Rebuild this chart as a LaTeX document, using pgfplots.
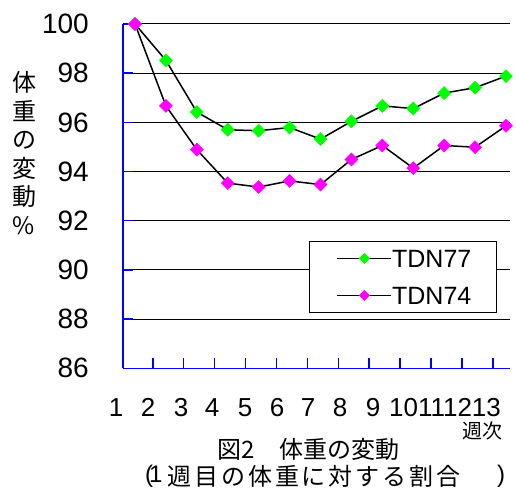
\documentclass[border=0pt]{standalone}
\usepackage{fontspec}
\setmainfont{Liberation Sans}
\newfontfamily\jp{Noto Sans CJK JP}
\usepackage{pgfplots}
\pgfplotsset{compat=1.18}
\definecolor{mgreen}{RGB}{0,255,0}
\definecolor{mmag}{RGB}{255,0,255}
\definecolor{mblue}{RGB}{0,0,255}
\begin{document}
\begin{tikzpicture}[x=1bp,y=1bp]
\path (0,0) rectangle (516,-491);
\begin{axis}[
  at={(123bp,-368.3bp)}, anchor=south west,
  scale only axis, width=387bp, height=344.3bp,
  xmin=0.612, xmax=13.13, ymin=86, ymax=100,
  axis lines*=left,
  axis line style={mblue, line width=1.5bp},
  tick align=inside,
  major tick length=10bp,
  tick style={mblue, line width=1.5bp},
  xtick={1.575,2.575,3.575,4.575,5.575,6.575,7.575,8.575,9.575,10.575,11.575,12.575},
  xticklabels={},
  ytick={86,88,90,92,94,96,98,100},
  yticklabel style={font=\fontsize{28bp}{28bp}\selectfont, inner sep=0pt, xshift=-34bp},
  /pgf/number format/assume math mode=true,
  ymajorgrids, grid style={black, line width=1bp},
  clip=false,
  legend cell align=left,
  legend style={at={(0.481,0.370)}, anchor=north west, draw=black, line width=1bp, fill=white,
    inner xsep=27bp, inner ysep=8bp, row sep=19bp,
    font=\fontsize{25bp}{25bp}\selectfont,
    nodes={inner sep=0pt, text height=18bp, text depth=0bp},
    /tikz/every even column/.append style={column sep=9bp}},
  legend image code/.code={
    \draw[#1, mark repeat=2, mark phase=2, mark size=3.6bp] plot coordinates {(0bp,0bp) (27bp,0bp) (54bp,0bp)};
  },
]
\addplot[black, line width=1.5bp, mark=square*, mark size=4.6bp,
  mark options={draw=mgreen, fill=mgreen, rotate=45, line width=0.5bp}]
  coordinates {(1,100)(2,98.52)(3,96.42)(4,95.70)(5,95.66)(6,95.79)(7,95.32)(8,96.04)(9,96.67)(10,96.56)(11,97.19)(12,97.41)(13,97.88)};
\addlegendentry{\makebox[77bp][l]{TDN77}}
\addplot[black, line width=1.5bp, mark=square*, mark size=4.6bp,
  mark options={draw=mmag, fill=mmag, rotate=45, line width=0.5bp}]
  coordinates {(1,100)(2,96.67)(3,94.89)(4,93.53)(5,93.37)(6,93.62)(7,93.47)(8,94.49)(9,95.06)(10,94.14)(11,95.06)(12,94.99)(13,95.86)};
\addlegendentry{\makebox[77bp][l]{TDN74}}
\end{axis}
\foreach \p/\t in {116/1,148/2,181/3,212/4,245/5,277/6,308/7,340/8,373/9,445/10111213}
  \node[font=\fontsize{26bp}{26bp}\selectfont, inner sep=0pt] at (\p,-407.5) {\t};
\node[font=\jp\fontsize{20bp}{20bp}\selectfont, inner sep=0pt] at (482,-431) {週次};
\node[font=\jp\fontsize{24bp}{24bp}\selectfont, inner sep=0pt] at (308.5,-449) {図2　体重の変動};
\node[font=\fontsize{24bp}{24bp}\selectfont, inner sep=0pt, anchor=west] at (145,-476) {(\kern-4bp1};
\node[font=\jp\fontsize{24bp}{24bp}\selectfont\addfontfeature{LetterSpace=12}, inner sep=0pt] at (314,-476) {週目の体重に対する割合};
\node[font=\fontsize{24bp}{24bp}\selectfont, inner sep=0pt] at (501,-476) {)};
\node[font=\jp\fontsize{24bp}{28.5bp}\selectfont, inner sep=0pt, align=center] at (24,-153) {体\\重\\の\\変\\動\\\%};
\end{tikzpicture}
\end{document}
